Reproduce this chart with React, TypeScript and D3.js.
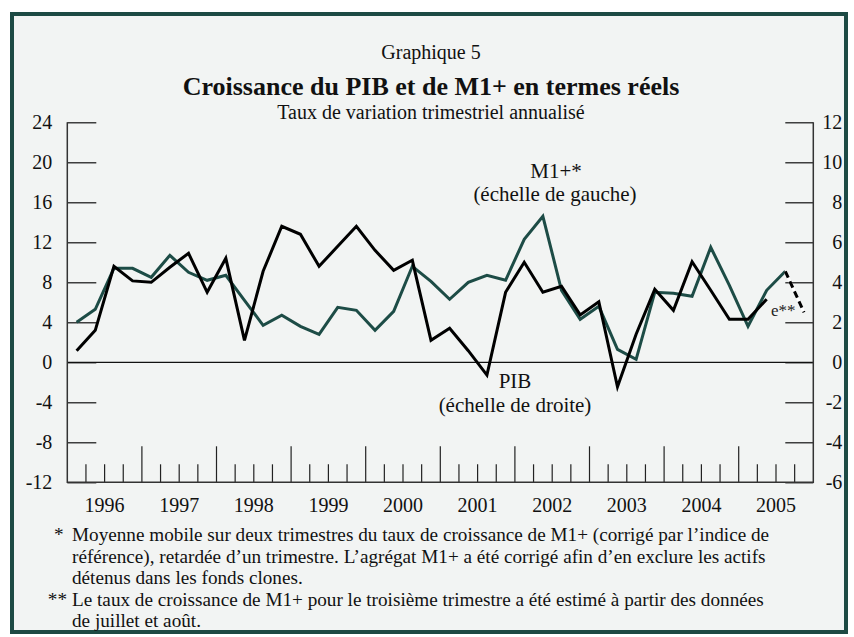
import { useEffect, useRef } from "react";
import * as d3 from "d3";

const WIDTH = 854;
const HEIGHT = 637;
const PLOT = { left: 67.3, right: 813.3, top: 122.3, bottom: 482.3 };
const FONT = "'Liberation Serif', 'Times New Roman', serif";
const TEAL = "#1d4c46";

const years = ["1996", "1997", "1998", "1999", "2000", "2001", "2002", "2003", "2004", "2005"];
const leftTicks = [-12, -8, -4, 0, 4, 8, 12, 16, 20, 24];
const rightTicks = [-6, -4, -2, 0, 2, 4, 6, 8, 10, 12];

// M1+ (échelle de gauche), 1996T1 .. 2005T3
const m1Plus = [
  4.0, 5.3, 9.4, 9.4, 8.5, 10.7, 9.0, 8.2, 8.7, 6.2, 3.7, 4.7, 3.6, 2.8, 5.5, 5.2,
  3.2, 5.1, 9.6, 8.1, 6.3, 8.0, 8.7, 8.2, 12.3, 14.6, 7.2, 4.3, 5.6, 1.3, 0.3, 7.0,
  6.9, 6.6, 11.5, 7.7, 3.6, 7.2, 9.1,
];
// estimation 2005T4 (e**)
const m1PlusEstimate = 5.0;

// PIB (échelle de droite), 1996T1 .. 2005T2
const pib = [
  0.58, 1.6, 4.8, 4.07, 4.0, 4.75, 5.45, 3.5, 5.2, 1.1, 4.55, 6.8, 6.4, 4.8, 5.8, 6.8,
  5.6, 4.6, 5.1, 1.1, 1.7, 0.58, -0.64, 3.5, 5.0, 3.5, 3.8, 2.37, 3.03, -1.22, 1.4, 3.65,
  2.6, 5.03, 3.6, 2.15, 2.15, 3.15,
];

const footnotes = [
  { mark: "*", text: "Moyenne mobile sur deux trimestres du taux de croissance de M1+ (corrigé par l’indice de" },
  { mark: "", text: "référence), retardée d’un trimestre. L’agrégat M1+ a été corrigé afin d’en exclure les actifs" },
  { mark: "", text: "détenus dans les fonds clones." },
  { mark: "**", text: "Le taux de croissance de M1+ pour le troisième trimestre a été estimé à partir des données" },
  { mark: "", text: "de juillet et août." },
];

const App = () => {
  const leftRef = useRef<SVGGElement>(null);
  const rightRef = useRef<SVGGElement>(null);

  const nQuarters = years.length * 4;
  const x = d3.scaleLinear().domain([0, nQuarters]).range([PLOT.left, PLOT.right]);
  const yL = d3.scaleLinear().domain([-12, 24]).range([PLOT.bottom, PLOT.top]);
  const yR = d3.scaleLinear().domain([-6, 12]).range([PLOT.bottom, PLOT.top]);

  const lineL = d3.line<number>().x((_, i) => x(i + 0.5)).y((d) => yL(d));
  const lineR = d3.line<number>().x((_, i) => x(i + 0.5)).y((d) => yR(d));

  const estPts: [number, number][] = [
    [x(m1Plus.length - 0.5), yL(m1Plus[m1Plus.length - 1])],
    [x(m1Plus.length + 0.5), yL(m1PlusEstimate)],
  ];
  const estPath = d3.line()(estPts) ?? "";

  useEffect(() => {
    const gl = d3.select(leftRef.current);
    gl.selectAll("*").remove();
    gl.call(
      d3.axisLeft(yL).tickValues(leftTicks).tickSizeInner(-29).tickSizeOuter(0).tickPadding(15)
        .tickFormat((d) => String(d))
    );
    gl.select(".domain").remove();
    gl.attr("font-family", FONT).attr("font-size", 20);
    gl.selectAll(".tick line").attr("stroke", "#111").attr("stroke-width", 1.2);
    gl.selectAll(".tick text").attr("fill", "#111");

    const gr = d3.select(rightRef.current);
    gr.selectAll("*").remove();
    gr.call(
      d3.axisRight(yR).tickValues(rightTicks).tickSizeInner(-28).tickSizeOuter(0).tickPadding(29)
        .tickFormat((d) => String(d))
    );
    gr.select(".domain").remove();
    gr.attr("font-family", FONT).attr("font-size", 20).attr("text-anchor", "end");
    gr.selectAll(".tick line").attr("stroke", "#111").attr("stroke-width", 1.2);
    gr.selectAll(".tick text").attr("fill", "#111");
  }, []);

  const qTicks = d3.range(1, nQuarters);

  return (
    <svg width={WIDTH} height={HEIGHT} style={{ position: "absolute", left: 0, top: 0, background: "#fff" }}>
      <rect x={12} y={14} width={834} height={618} fill="#f2f4f3" stroke="#1d4a44" strokeWidth={4} />

      <g fontFamily={FONT} fill="#111" textAnchor="middle">
        <text x={431} y={59} fontSize={20}>Graphique 5</text>
        <text x={431} y={95} fontSize={26} fontWeight="bold">Croissance du PIB et de M1+ en termes réels</text>
        <text x={431} y={119} fontSize={20}>Taux de variation trimestriel annualisé</text>
      </g>

      {/* ligne du zéro */}
      <line x1={PLOT.left} x2={PLOT.right} y1={yL(0)} y2={yL(0)} stroke="#111" strokeWidth={1.2} />

      {/* graduations trimestres / années */}
      <g stroke="#222" strokeWidth={1.2}>
        {qTicks.map((q) => (
          <line key={q} x1={x(q)} x2={x(q)} y1={PLOT.bottom} y2={PLOT.bottom - (q % 4 === 0 ? 36 : 18)} />
        ))}
      </g>

      <g ref={leftRef} transform={`translate(${PLOT.left},0)`} />
      <g ref={rightRef} transform={`translate(${PLOT.right},0)`} />

      <path
        d={`M${PLOT.left},${PLOT.top}V${PLOT.bottom}H${PLOT.right}V${PLOT.top}`}
        fill="none"
        stroke="#333"
        strokeWidth={1.5}
      />

      <g fontFamily={FONT} fontSize={20} fill="#111" textAnchor="middle">
        {years.map((yr, i) => (
          <text key={yr} x={x(i * 4 + 2)} y={512}>{yr}</text>
        ))}
      </g>

      <path d={lineL(m1Plus) ?? ""} fill="none" stroke={TEAL} strokeWidth={3} strokeLinejoin="miter" />
      <path d={lineR(pib) ?? ""} fill="none" stroke="#000" strokeWidth={3} strokeLinejoin="miter" />
      <path d={estPath} fill="none" stroke="#fff" strokeWidth={3} />
      <path d={estPath} fill="none" stroke="#000" strokeWidth={3} strokeDasharray="7,4" />

      <g fontFamily={FONT} fontSize={21} fill="#111" textAnchor="middle">
        <text x={556} y={178}>M1+*</text>
        <text x={555} y={201}>(échelle de gauche)</text>
        <text x={515} y={388}>PIB</text>
        <text x={515} y={412}>(échelle de droite)</text>
      </g>
      <text x={771} y={316} fontFamily={FONT} fontSize={17} fill="#222">e**</text>

      <g fontFamily={FONT} fontSize={19.2} fill="#111">
        {footnotes.map((f, i) => (
          <g key={i}>
            {f.mark === "*" && <text x={54} y={541 + i * 21.5}>{f.mark}</text>}
            {f.mark === "**" && <text x={67} y={541 + i * 21.5} textAnchor="end">{f.mark}</text>}
            <text x={72} y={541 + i * 21.5}>{f.text}</text>
          </g>
        ))}
      </g>
    </svg>
  );
};

export default App;
